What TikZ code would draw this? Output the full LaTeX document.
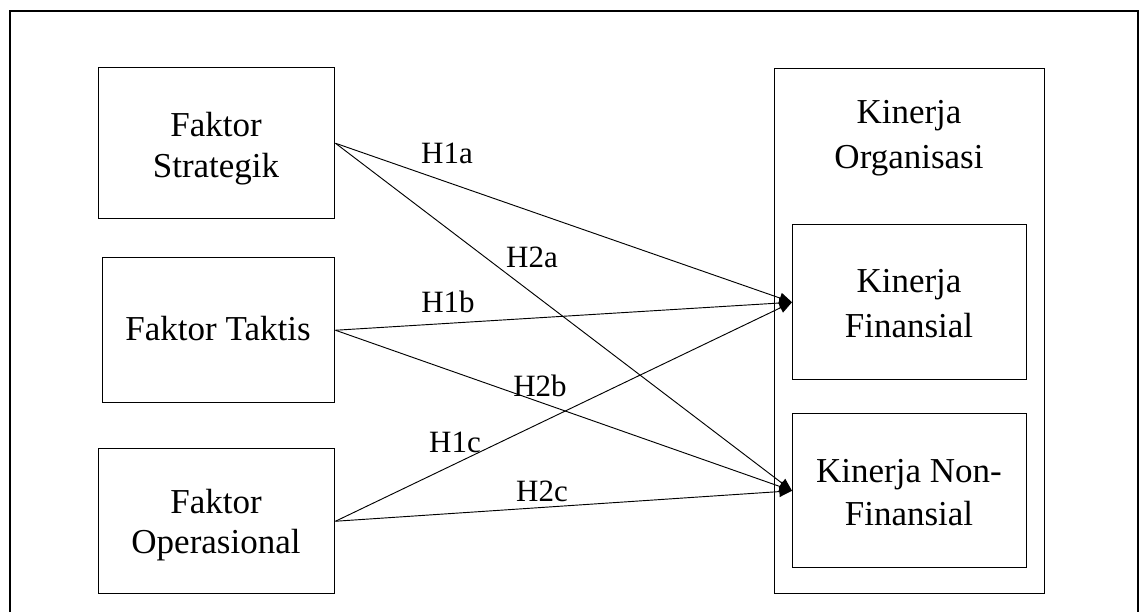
\documentclass[tikz,border=0pt]{standalone}
\usepackage{fontspec}
\setmainfont{Liberation Serif}
\usetikzlibrary{arrows.meta}
\begin{document}
\begin{tikzpicture}[x=0.75pt,y=-0.75pt,
  frame/.style={line width=1.5pt},
  box/.style={draw,line width=1.1pt,rectangle,inner sep=0pt,anchor=north west},
  txt/.style={anchor=base,inner sep=0pt,font=\fontsize{26.25pt}{30pt}\selectfont},
  hlab/.style={anchor=base,inner sep=0pt,font=\fontsize{23.25pt}{27pt}\selectfont},
  conn/.style={line width=0.7pt,-{Triangle[length=9.5pt,width=8pt]}}]
\useasboundingbox (0,0) rectangle (1141,612);
\draw[frame] (10,612) -- (10,11) -- (1138,11) -- (1138,612);
% left boxes
\node[box,minimum width=236*0.75pt,minimum height=151*0.75pt] (fs) at (98,67) {};
\node[box,minimum width=232*0.75pt,minimum height=145*0.75pt] (ft) at (102,257) {};
\node[box,minimum width=236*0.75pt,minimum height=145*0.75pt] (fo) at (98,448) {};
% right boxes
\node[box,minimum width=270*0.75pt,minimum height=525*0.75pt] (ko) at (774,68) {};
\node[box,minimum width=234*0.75pt,minimum height=155*0.75pt] (kf) at (792,224) {};
\node[box,minimum width=234*0.75pt,minimum height=154*0.75pt] (kn) at (792,413) {};
% texts
\node[txt] (fs1) at (216,136) {Faktor};
\node[txt] (fs2) at (216,177) {Strategik};
\node[txt] (ft1) at (218,340) {Faktor Taktis};
\node[txt] (fo1) at (216,513) {Faktor};
\node[txt] (fo2) at (216,553) {Operasional};
\node[txt] (ko1) at (909,123) {Kinerja};
\node[txt] (ko2) at (909,168) {Organisasi};
\node[txt] (kf1) at (909,292) {Kinerja};
\node[txt] (kf2) at (909,337) {Finansial};
\node[txt] (kn1) at (909,482) {Kinerja Non-};
\node[txt] (kn2) at (909,525) {Finansial};
% connectors
\draw[conn] (fs.east) -- (kf.west);
\draw[conn] (ft.east) -- (kf.west);
\draw[conn] (fo.east) -- (kf.west);
\draw[conn] (fs.east) -- (kn.west);
\draw[conn] (ft.east) -- (kn.west);
\draw[conn] (fo.east) -- (kn.west);
% labels
\node[hlab] (h1a) at (447,163) {H1a};
\node[hlab] (h2a) at (532,267) {H2a};
\node[hlab] (h1b) at (448,312) {H1b};
\node[hlab] (h2b) at (540,396) {H2b};
\node[hlab] (h1c) at (455,452) {H1c};
\node[hlab] (h2c) at (542,501) {H2c};
\end{tikzpicture}
\end{document}
